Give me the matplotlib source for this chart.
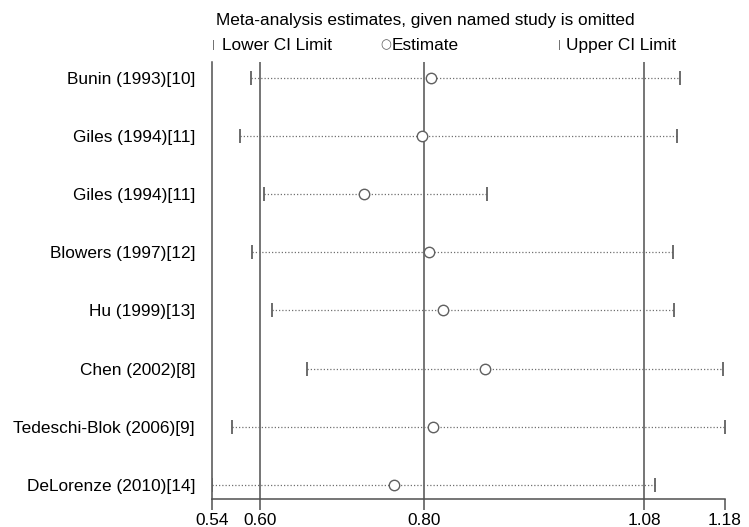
import matplotlib
matplotlib.use("Agg")
import matplotlib.pyplot as plt

studies = ["Bunin (1993)[10]", "Giles (1994)[11]", "Giles (1994)[11]", "Blowers (1997)[12]",
           "Hu (1999)[13]", "Chen (2002)[8]", "Tedeschi-Blok (2006)[9]", "DeLorenze (2010)[14]"]
estimate = [0.811, 0.800, 0.728, 0.809, 0.826, 0.879, 0.814, 0.765]
lower_ci = [0.586, 0.572, 0.602, 0.587, 0.612, 0.656, 0.562, 0.537]
upper_ci = [1.123, 1.119, 0.881, 1.114, 1.115, 1.177, 1.179, 1.092]
overall = [0.598, 0.803, 1.078]  # lower CI, estimate, upper CI
tick_values = [0.537, 0.598, 0.803, 1.078, 1.179]
tick_labels = ["0.54", "0.60", "0.80", "1.08", "1.18"]

plt.rcParams['font.family'] = ['Liberation Sans', 'DejaVu Sans']
FS = 12.4
line_c = "#505050"
mark_c = "#606060"

fig = plt.figure(figsize=(7.49, 5.27), dpi=100)
ax = fig.add_axes([0.2826, 0.0526, 0.968 - 0.2826, 0.882 - 0.0526])

y = list(range(1, len(studies) + 1))
for yi, lo, est, hi in zip(y, lower_ci, estimate, upper_ci):
    ax.plot([lo, hi], [yi, yi], linestyle=(0, (1, 1.6)), color="#707070", lw=0.9, zorder=2)
ax.plot(lower_ci, y, linestyle="none", marker="|", ms=9.5, mew=1.3, color=mark_c, zorder=3)
ax.plot(upper_ci, y, linestyle="none", marker="|", ms=9.5, mew=1.3, color=mark_c, zorder=3)
ax.plot(estimate, y, linestyle="none", marker="o", ms=7.5, mfc="white", mec=mark_c, mew=1.0, zorder=4)

for v in overall:
    ax.axvline(v, color=line_c, lw=1.1, zorder=1)

ax.set_xlim(tick_values[0], tick_values[-1])
ax.set_ylim(8.25, 0.73)
ax.set_yticks(y)
ax.set_yticklabels(studies, fontsize=FS)
ax.tick_params(axis="y", length=0, pad=12)
ax.set_xticks(tick_values)
ax.set_xticklabels(tick_labels, fontsize=FS)
ax.tick_params(axis="x", length=8, width=1.1, color=line_c, pad=2)
for s in ["top", "right"]:
    ax.spines[s].set_visible(False)
for s in ["left", "bottom"]:
    ax.spines[s].set_color(line_c)
    ax.spines[s].set_linewidth(1.1)

fig.text(216 / 749, 1 - 21 / 527, "Meta-analysis estimates, given named study is omitted",
         fontsize=FS, va="center", ha="left")
fig.text(212 / 749, 1 - 45 / 527, "|", fontsize=8, va="center", ha="left", color=mark_c)
fig.text(222 / 749, 1 - 45 / 527, "Lower CI Limit", fontsize=FS, va="center", ha="left")
fig.text(380 / 749, 1 - 45 / 527, "\u25cb", fontsize=9, va="center", ha="left", color=mark_c,
         family=['DejaVu Sans'])
fig.text(392 / 749, 1 - 45 / 527, "Estimate", fontsize=FS, va="center", ha="left")
fig.text(558 / 749, 1 - 45 / 527, "|", fontsize=8, va="center", ha="left", color=mark_c)
fig.text(566 / 749, 1 - 45 / 527, "Upper CI Limit", fontsize=FS, va="center", ha="left")

fig.savefig("out.png", dpi=100)
